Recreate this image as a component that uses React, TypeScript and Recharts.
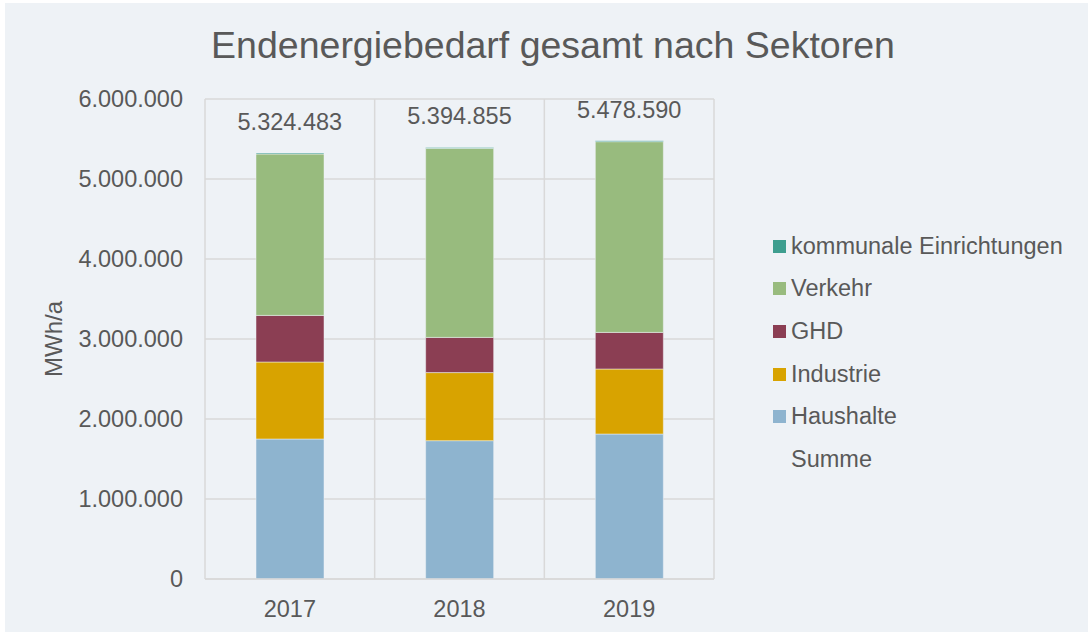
import { Bar, CartesianGrid, ComposedChart, Line, XAxis, YAxis } from "recharts"

const years = ["2017", "2018", "2019"]
const haushalte = [1750000, 1729000, 1812500]
const industrie = [962500, 851000, 812500]
const ghd = [582500, 440000, 457500]
const verkehr = [2017483, 2362855, 2384090]
const kommunale = [12000, 12000, 12000]
const summe = [5324483, 5394855, 5478590]
const yTicks = [0, 1000000, 2000000, 3000000, 4000000, 5000000, 6000000]

const series = [
  { key: "Haushalte", values: haushalte, color: "#8EB4CF" },
  { key: "Industrie", values: industrie, color: "#D8A300" },
  { key: "GHD", values: ghd, color: "#8B3E53" },
  { key: "Verkehr", values: verkehr, color: "#98BB7E" },
  { key: "kommunale Einrichtungen", values: kommunale, color: "#3E9E8F" },
]

const data = years.map((year, i) => {
  const row: Record<string, string | number> = { year, Summe: summe[i] }
  series.forEach((s) => {
    row[s.key] = s.values[i]
  })
  return row
})

const fmt = (v: number) => String(Math.round(v)).replace(/\B(?=(\d{3})+(?!\d))/g, ".")

const textColor = "#595959"
const bg = "#EEF2F6"
const font = "'Liberation Sans', Arial, sans-serif"

function SumLabel(props: any) {
  const { x, y, value } = props
  return (
    <text x={x} y={y - 31} textAnchor="middle" dominantBaseline="central" fill={textColor} fontSize={23.5} fontFamily={font}>
      {fmt(value)}
    </text>
  )
}

// legend is drawn outside the chart so it doesn't eat into the plot area
function LegendBox() {
  const items = [...series].reverse()
  return (
    <div style={{ position: "absolute", left: 773, top: 225, fontSize: 23.5, color: textColor }}>
      {items.map((s) => (
        <div key={s.key} style={{ display: "flex", alignItems: "center", height: 42.6 }}>
          <span style={{ width: 13, height: 13, background: s.color, marginRight: 5 }} />
          <span>{s.key}</span>
        </div>
      ))}
      <div style={{ display: "flex", alignItems: "center", height: 42.6, paddingLeft: 18 }}>Summe</div>
    </div>
  )
}

export default function App() {
  return (
    <div style={{ position: "relative", width: 1089, height: 634, background: "#FFFFFF", fontFamily: font }}>
      <style>{`body{margin:0}`}</style>
      <div style={{ position: "absolute", left: 5, top: 3, width: 1083, height: 629, background: bg }} />
      <div
        style={{
          position: "absolute",
          top: 24,
          left: 0,
          width: 1106,
          textAlign: "center",
          fontSize: 37.5,
          color: textColor,
        }}
      >
        Endenergiebedarf gesamt nach Sektoren
      </div>
      <ComposedChart
        width={1089}
        height={634}
        data={data}
        margin={{ top: 99, right: 375, bottom: 0, left: 0 }}
        barCategoryGap={51}
        style={{ position: "absolute", left: 0, top: 0 }}
      >
        <CartesianGrid
          stroke="#D9D9D9"
          strokeWidth={1.5}
          verticalCoordinatesGenerator={({ offset }: any) =>
            years.map((_, i) => offset.left + (i * offset.width) / years.length).concat(offset.left + offset.width)
          }
        />
        <XAxis
          dataKey="year"
          axisLine={{ stroke: "#D9D9D9", strokeWidth: 1.5 }}
          tickLine={false}
          tickSize={0}
          tickMargin={21}
          height={55}
          tick={{ fill: textColor, fontSize: 23.5, fontFamily: font }}
        />
        <YAxis
          width={205}
          domain={[0, 6000000]}
          ticks={yTicks}
          axisLine={false}
          tickLine={false}
          tickSize={0}
          tickMargin={22}
          tickFormatter={fmt}
          tick={{ fill: textColor, fontSize: 23.5, fontFamily: font }}
          label={{
            value: "MWh/a",
            angle: -90,
            position: "insideLeft",
            offset: 53,
            fill: textColor,
            fontSize: 24,
            fontFamily: font,
            style: { textAnchor: "middle" },
          }}
        />
        {series.map((s) => (
          <Bar key={s.key} dataKey={s.key} stackId="a" fill={s.color} stroke={bg} strokeWidth={0.5} isAnimationActive={false} />
        ))}
        <Line dataKey="Summe" stroke="none" dot={false} activeDot={false} isAnimationActive={false} label={SumLabel} />
      </ComposedChart>
      <LegendBox />
    </div>
  )
}
